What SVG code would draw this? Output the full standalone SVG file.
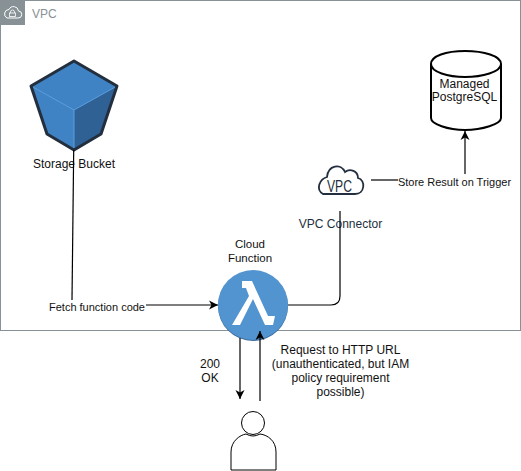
<svg xmlns="http://www.w3.org/2000/svg" width="521" height="471" viewBox="0 0 521 471">
<style>
text{font-family:"Liberation Sans",Arial,sans-serif;font-size:12px;fill:#111;text-anchor:middle}
.s{font-size:11px}
.c{fill:none;stroke:#000;stroke-width:1.2}
</style>
<defs>
<marker id="a" markerUnits="userSpaceOnUse" markerWidth="10" markerHeight="10" refX="9" refY="5" orient="auto"><path d="M0 .5L9 5L0 9.500L2.500 5Z" fill="#000"/></marker>
</defs>
<rect width="521" height="471" fill="#fff"/>
<g id="vpc">
<rect x="0.500" y="0.500" width="520" height="330" fill="none" stroke="#879196"/>
<rect x="0" y="0" width="25" height="25" fill="#879196"/>
<path d="M7 18h11a3.500 3.500 0 0 0 .5-7 5 5 0 0 0-9.500-1.500 4.500 4.500 0 0 0-2 8.500Z" fill="none" stroke="#fff" stroke-width="1"/>
<rect x="9.500" y="13" width="6" height="3.500" fill="none" stroke="#fff" stroke-width=".8"/>
<path d="M10.500 13v-1a2 2 0 0 1 4 0v1" fill="none" stroke="#fff" stroke-width=".8"/>
<text x="32" y="18" style="fill:#879196;text-anchor:start">VPC</text>
</g>
<g id="bucket">
<path d="M74 61L117 86L101 134L74 150L47 134L31 86Z" fill="#4083c4"/>
<path d="M74 110L117 86L101 134L74 150Z" fill="#2f6195"/>
<path d="M31 86L74 110L117 86M74 110V150" fill="none" stroke="#5b9ede" stroke-width="1"/>
<path d="M74 61L117 86L101 134L74 150L47 134L31 86Z" fill="none" stroke="#232f3e" stroke-width="3" stroke-linejoin="round"/>
<text x="74" y="168">Storage Bucket</text>
</g>
<g id="postgres">
<path d="M431 64V118C431 124 448 130 465 130S501 124 501 118V64C501 56 484 51 465 51S431 56 431 64C431 72 448 77 465 77S501 72 501 64" fill="#fff" stroke="#000" stroke-width="2"/>
<text x="464.500" y="88">Managed</text>
<text x="464.500" y="101">PostgreSQL</text>
</g>
<g id="store-label"><text class="s" x="454.500" y="186">Store Result on Trigger</text></g>
<g id="vpc-connector">
<path d="M323 194H355C365 194 366 180 358 178C358 171 350 168 345 172C341 163 328 165 327 177C320 179 315 189 323 194Z" fill="#fff" stroke="#232f3e" stroke-width="1.800"/>
<text x="339.500" y="192" style="font-size:17px;fill:#232f3e" textLength="25" lengthAdjust="spacingAndGlyphs">VPC</text>
<text x="340.500" y="228" style="fill:#232f3e">VPC Connector</text>
</g>
<g id="function">
<circle cx="253" cy="306" r="35" fill="#3a6a9c"/>
<circle cx="253" cy="305" r="35" fill="#5294cf"/>
<path d="M242 281H252L268 316 275 316 273 325H265L253 299 240 325H232L249 296 246 288H242Z" fill="#fff"/>
<text x="250" y="248" style="font-size:11.500px">Cloud</text>
<text x="250" y="262" style="font-size:11.500px">Function</text>
</g>
<g id="fetch-label"><text class="s" x="97" y="310.500">Fetch function code</text></g>
<g id="labels">
<text x="210" y="368">200</text>
<text x="210" y="382">OK</text>
<text x="340.500" y="354">Request to HTTP URL</text>
<text x="340.500" y="368">(unauthenticated, but IAM</text>
<text x="340.500" y="382">policy requirement</text>
<text x="340.500" y="396">possible)</text>
</g>
<g id="user">
<circle cx="253" cy="423" r="11.500" fill="#fff" stroke="#000"/>
<path d="M231 470V452C231 441 240 435 246 434Q253 438 260 434C268 435 276 441 276 452V470Z" fill="#fff" stroke="#000"/>
</g>
<g id="connectors">
<path class="c" d="M73.700 150L72 300"/>
<path class="c" d="M146 305H218" marker-end="url(#a)"/>
<path class="c" d="M288 305H331Q340 305 340 296V211"/>
<path class="c" d="M371 180H398"/>
<path class="c" d="M465 174V131" marker-end="url(#a)"/>
<path class="c" d="M240 338V399" marker-end="url(#a)"/>
<path class="c" d="M260 401V331" marker-end="url(#a)"/>
</g>
</svg>
